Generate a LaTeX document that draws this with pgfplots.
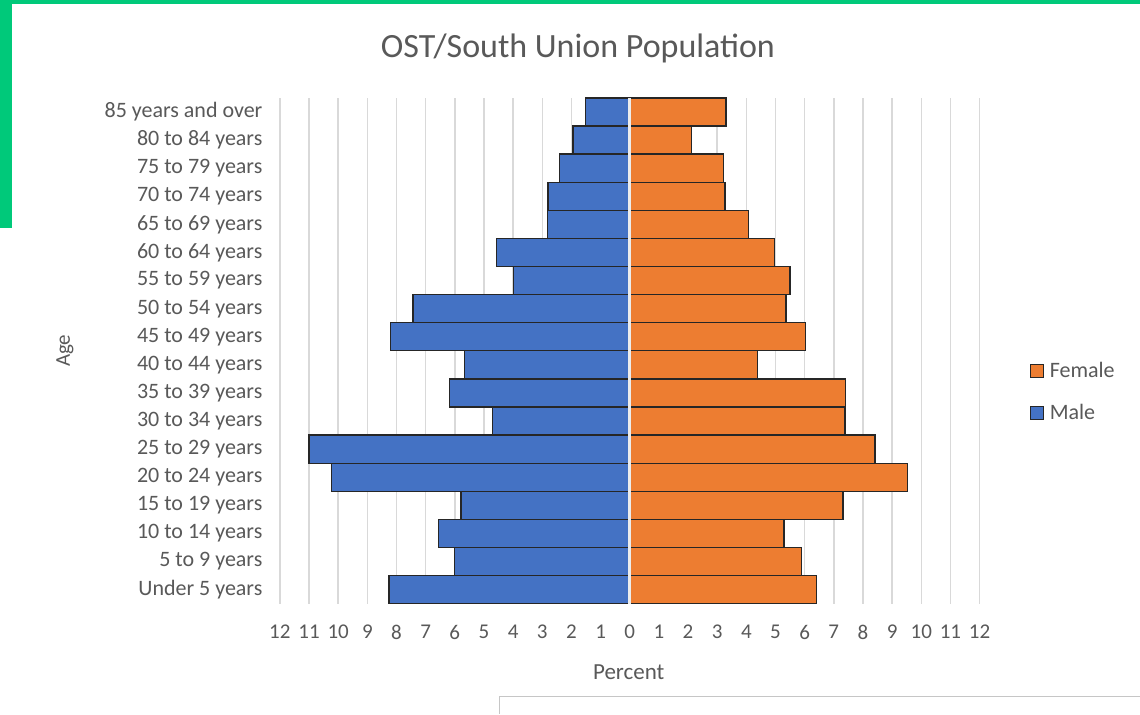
\documentclass[border=0pt]{standalone}
\usepackage{fontspec}
\setmainfont{Carlito}
\usepackage{pgfplots}
\pgfplotsset{compat=1.18}
\definecolor{maleblue}{HTML}{4472C4}
\definecolor{femorange}{HTML}{ED7D31}
\definecolor{txtgray}{HTML}{595959}
\definecolor{gridgray}{HTML}{D9D9D9}
\definecolor{framegreen}{HTML}{00C97A}
\begin{document}
\begin{tikzpicture}[x=1pt,y=1pt]
\fill[white] (0,0) rectangle (1140,714);
\fill[framegreen] (0,710) rectangle (1140,714);
\fill[framegreen] (0,486) rectangle (12,714);
\draw[gray!45, line width=1pt] (500,0) -- (500,17) -- (1140,17);
\begin{axis}[
  at={(280pt,110pt)}, anchor=south west,
  scale only axis, width=700pt, height=506pt,
  xmin=-12, xmax=12, ymin=-0.5, ymax=17.5,
  xtick={-12,...,12},
  ytick={0,...,17},
  yticklabels={Under 5 years, 5 to 9 years, 10 to 14 years, 15 to 19 years, 20 to 24 years, 25 to 29 years, 30 to 34 years, 35 to 39 years, 40 to 44 years, 45 to 49 years, 50 to 54 years, 55 to 59 years, 60 to 64 years, 65 to 69 years, 70 to 74 years, 75 to 79 years, 80 to 84 years, 85 years and over},
  xticklabel={\pgfmathparse{abs(\tick)}\pgfmathprintnumber[fixed,precision=0]{\pgfmathresult}},
  /pgf/number format/assume math mode=true,
  axis line style={draw=none},
  major tick length=0pt,
  xmajorgrids, grid style={gridgray, line width=1.5pt},
  ticklabel style={font=\fontsize{21}{21}\selectfont, text=txtgray},
  xticklabel style={yshift=-18pt},
  yticklabel style={xshift=-14pt, font=\fontsize{22}{22}\selectfont},
  xbar, bar width=1, bar shift=0pt,
  title={OST/South Union Population},
  title style={at={(axis description cs:0.426,1.087)}, anchor=center, font=\fontsize{34}{34}\selectfont, text=txtgray},
  xlabel={Percent},
  xlabel style={at={(axis description cs:0.4986,-0.136)}, anchor=center, font=\fontsize{23}{23}\selectfont, text=txtgray},
  ylabel={Age},
  ylabel style={at={(axis description cs:-0.307,0.5)}, anchor=center, font=\fontsize{21}{21}\selectfont, text=txtgray},
  legend style={at={(axis description cs:1.067,0.419)}, anchor=west, draw=none, fill=none,
    font=\fontsize{22}{22}\selectfont, text=txtgray, row sep=21pt, nodes={inner sep=2pt}},
  legend cell align=left,
  legend image code/.code={\draw[#1,line width=1pt] (0pt,-6.5pt) rectangle (13pt,6.5pt); \path (17pt,0pt);},
]
\addplot[fill=femorange, draw=black!85, line width=1.3pt] coordinates {
(6.41,0) (5.88,1) (5.29,2) (7.32,3) (9.52,4) (8.41,5) (7.38,6) (7.40,7) (4.39,8) (6.03,9) (5.36,10) (5.50,11) (4.97,12) (4.07,13) (3.27,14) (3.21,15) (2.11,16) (3.30,17)};
\addlegendentry{Female}
\addplot[fill=maleblue, draw=black!85, line width=1.3pt] coordinates {
(-8.26,0) (-6.00,1) (-6.57,2) (-5.79,3) (-10.23,4) (-11.00,5) (-4.70,6) (-6.18,7) (-5.67,8) (-8.20,9) (-7.43,10) (-3.98,11) (-4.57,12) (-2.83,13) (-2.80,14) (-2.41,15) (-1.95,16) (-1.52,17)};
\addlegendentry{Male}
\draw[gridgray!50!white, line width=2.5pt] (axis cs:0,-0.5) -- (axis cs:0,17.5);
\end{axis}
\end{tikzpicture}
\end{document}
